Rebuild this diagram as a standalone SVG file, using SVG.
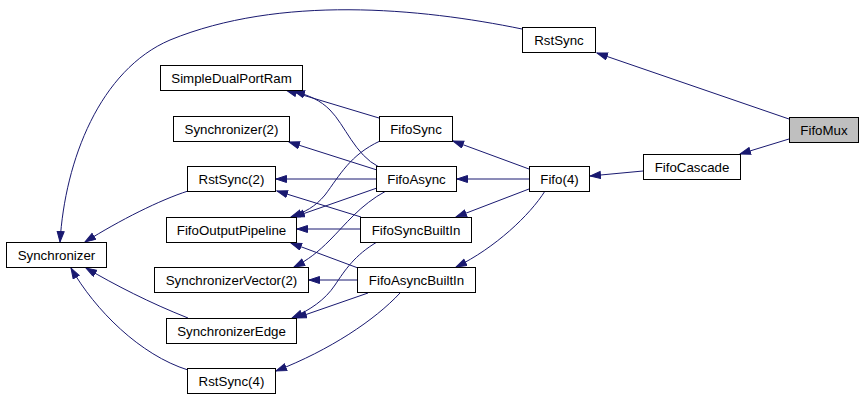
<svg xmlns="http://www.w3.org/2000/svg" width="864" height="400" viewBox="0 0 864 400">
<style>
.n rect{fill:#fff;stroke:#000;stroke-width:1}
.n text{font-family:"Liberation Sans",Arial,Helvetica,sans-serif;font-size:13.3px;text-anchor:middle;fill:#000}
#n_FifoMux rect{fill:#bfbfbf}
.e path{fill:none;stroke:#191970;stroke-width:1;marker-end:url(#ah)}
</style>
<defs>
<marker id="ah" markerWidth="12" markerHeight="9" refX="11" refY="4" orient="auto" markerUnits="userSpaceOnUse">
<path d="M0.5,0.5 L11,4 L0.5,7.5 z" fill="#191970" stroke="#191970" stroke-width="1"/>
</marker>
</defs>
<rect width="864" height="400" fill="#fff"/>
<g id="edges" class="e">
<path d="M789,119 L597,53"/>
<path d="M789,139 L740,154"/>
<path d="M643,171 L590,176"/>
<path d="M529,169 L453,141"/>
<path d="M529,179 L457,179"/>
<path d="M529,189 L456,217"/>
<path d="M545,191 C530,215 495,248 456,267"/>
<path d="M522,29 C420,8 280,-5 170,40 C100,70 65,160 60,242"/>
<path d="M379,118 L286,90"/>
<path d="M379,167 C355,155 345,125 330,110 C320,100 310,96 294,91"/>
<path d="M377,170 L289,142"/>
<path d="M377,179 L276,179"/>
<path d="M380,141 C350,155 340,175 325,195 C315,207 305,212 291,217"/>
<path d="M377,188 L294,217"/>
<path d="M361,217 L277,191"/>
<path d="M361,229 L297,229"/>
<path d="M386,191 C360,205 345,225 330,240 C318,252 308,260 294,267"/>
<path d="M358,268 L291,243"/>
<path d="M358,280 L309,280"/>
<path d="M377,242 C355,255 345,270 335,285 C325,300 310,310 292,318"/>
<path d="M368,293 L296,318"/>
<path d="M400,293 C375,320 330,350 276,371"/>
<path d="M188,191 C160,200 120,220 85,242"/>
<path d="M188,318 C150,303 115,285 86,268"/>
<path d="M188,370 C140,355 95,310 71,268"/>
</g>
<g id="n_FifoMux" class="n"><rect x="789.5" y="117.5" width="69" height="25"/><text x="824" y="134.5">FifoMux</text></g>
<g id="n_RstSync" class="n"><rect x="522.5" y="27.5" width="73" height="25"/><text x="559" y="44.5">RstSync</text></g>
<g id="n_FifoCascade" class="n"><rect x="643.5" y="154.5" width="97" height="25"/><text x="692" y="171.5">FifoCascade</text></g>
<g id="n_Fifo4" class="n"><rect x="529.5" y="166.5" width="60" height="25"/><text x="559.5" y="183.5">Fifo(4)</text></g>
<g id="n_FifoSync" class="n"><rect x="379.5" y="116.5" width="73" height="25"/><text x="416" y="133.5">FifoSync</text></g>
<g id="n_FifoAsync" class="n"><rect x="376.5" y="166.5" width="80" height="25"/><text x="416.5" y="183.5">FifoAsync</text></g>
<g id="n_FifoSyncBuiltIn" class="n"><rect x="360.5" y="217.5" width="111" height="25"/><text x="416" y="234.5">FifoSyncBuiltIn</text></g>
<g id="n_FifoAsyncBuiltIn" class="n"><rect x="357.5" y="267.5" width="118" height="25"/><text x="416.5" y="284.5">FifoAsyncBuiltIn</text></g>
<g id="n_SimpleDualPortRam" class="n"><rect x="160.5" y="65.5" width="142" height="25"/><text x="231.5" y="82.5">SimpleDualPortRam</text></g>
<g id="n_Synchronizer2" class="n"><rect x="173.5" y="116.5" width="116" height="25"/><text x="231.5" y="133.5">Synchronizer(2)</text></g>
<g id="n_RstSync2" class="n"><rect x="187.5" y="166.5" width="88" height="25"/><text x="231.5" y="183.5">RstSync(2)</text></g>
<g id="n_FifoOutputPipeline" class="n"><rect x="166.5" y="217.5" width="130" height="25"/><text x="231.5" y="234.5">FifoOutputPipeline</text></g>
<g id="n_SynchronizerVector2" class="n"><rect x="154.5" y="267.5" width="154" height="25"/><text x="231.5" y="284.5">SynchronizerVector(2)</text></g>
<g id="n_SynchronizerEdge" class="n"><rect x="166.5" y="318.5" width="130" height="25"/><text x="231.5" y="335.5">SynchronizerEdge</text></g>
<g id="n_RstSync4" class="n"><rect x="187.5" y="368.5" width="88" height="25"/><text x="231.5" y="385.5">RstSync(4)</text></g>
<g id="n_Synchronizer" class="n"><rect x="6.5" y="242.5" width="100" height="25"/><text x="56.5" y="259.5">Synchronizer</text></g>
</svg>
